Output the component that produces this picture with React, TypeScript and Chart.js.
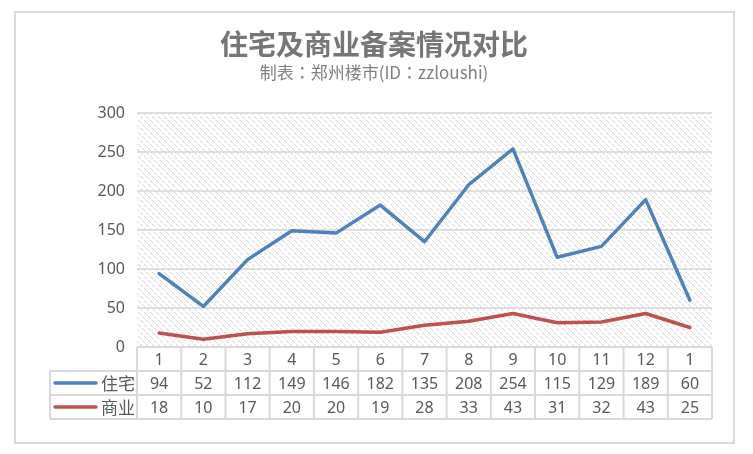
import React, { useEffect, useRef } from "react";
import { Chart, registerables } from "chart.js";

Chart.register(...registerables);

const titleText = "住宅及商业备案情况对比";
const subtitleText = "制表：郑州楼市(ID：zzloushi)";
const categories = ["1", "2", "3", "4", "5", "6", "7", "8", "9", "10", "11", "12", "1"];
const residential = [94, 52, 112, 149, 146, 182, 135, 208, 254, 115, 129, 189, 60];
const commercial = [18, 10, 17, 20, 20, 19, 28, 33, 43, 31, 32, 43, 25];
const seriesNames = ["住宅", "商业"];
const seriesColors = ["#4f81bd", "#c0504d"];
const yMin = 0;
const yMax = 300;
const yStep = 50;

const FONT = '"Noto Sans", "Noto Sans CJK SC", sans-serif';
const CJK = '"Noto Sans CJK SC", "Noto Sans", sans-serif';
const CJK_TC = '"Noto Sans CJK TC", "Noto Sans CJK SC", sans-serif';
const TEXT = "#595959";
const LINE = "#d9d9d9";

function makePattern(ctx: CanvasRenderingContext2D) {
  const c = document.createElement("canvas");
  c.width = 12;
  c.height = 12;
  const p = c.getContext("2d")!;
  p.fillStyle = "#d2d2d2";
  for (let y = 0; y < 12; y++) {
    for (let x = 0; x < 12; x++) {
      if (((x - y) % 6 + 6) % 6 === 0 && y % 4 !== 3) p.fillRect(x, y, 1, 1);
    }
  }
  return ctx.createPattern(c, "repeat");
}

const decorPlugin = {
  id: "decor",
  beforeDraw(chart: any) {
    const ctx: CanvasRenderingContext2D = chart.ctx;
    const { left, top, right, bottom } = chart.chartArea;
    ctx.save();
    ctx.fillStyle = "#ffffff";
    ctx.fillRect(0, 0, chart.width, chart.height);
    ctx.strokeStyle = LINE;
    ctx.lineWidth = 2;
    ctx.strokeRect(15, 12, 719, 431);
    const pat = makePattern(ctx);
    if (pat) {
      ctx.fillStyle = pat;
      ctx.fillRect(left, top, right - left, bottom - top);
    }
    ctx.restore();
  },
  afterDraw(chart: any) {
    const ctx: CanvasRenderingContext2D = chart.ctx;
    const { left, right, bottom } = chart.chartArea;
    const xs = chart.scales.x;
    ctx.save();
    // titles
    ctx.textAlign = "center";
    ctx.textBaseline = "middle";
    ctx.fillStyle = "#767676";
    ctx.font = `bold 28px ${CJK}`;
    ctx.fillText(titleText, 374, 44);
    ctx.fillStyle = "#808080";
    ctx.font = `17px ${CJK_TC}`;
    ctx.fillText(subtitleText, 374, 73);

    // data table
    const rowH = 24;
    const r0 = bottom;
    const r1 = r0 + rowH;
    const r2 = r1 + rowH;
    const r3 = r2 + rowH;
    const headLeft = 50;
    const n = categories.length;
    const colW = (right - left) / n;
    ctx.strokeStyle = LINE;
    ctx.lineWidth = 2;
    ctx.beginPath();
    ctx.moveTo(left, r0); ctx.lineTo(right, r0);
    ctx.moveTo(headLeft, r1); ctx.lineTo(right, r1);
    ctx.moveTo(headLeft, r2); ctx.lineTo(right, r2);
    ctx.moveTo(headLeft, r3); ctx.lineTo(right, r3);
    ctx.moveTo(headLeft, r1); ctx.lineTo(headLeft, r3);
    for (let i = 0; i <= n; i++) {
      const x = left + colW * i;
      ctx.moveTo(x, r0); ctx.lineTo(x, r3);
    }
    ctx.stroke();

    ctx.fillStyle = TEXT;
    ctx.font = `16px ${FONT}`;
    ctx.textAlign = "center";
    ctx.textBaseline = "middle";
    const rowsData = [residential, commercial];
    categories.forEach((c, i) => {
      const x = xs.getPixelForValue(i);
      ctx.fillText(c, x, (r0 + r1) / 2 + 1);
      ctx.fillText(String(rowsData[0][i]), x, (r1 + r2) / 2 + 1);
      ctx.fillText(String(rowsData[1][i]), x, (r2 + r3) / 2 + 1);
    });
    [r1, r2].forEach((rt, k) => {
      const cy = rt + rowH / 2;
      ctx.strokeStyle = seriesColors[k];
      ctx.lineWidth = 3.5;
      ctx.lineCap = "round";
      ctx.beginPath();
      ctx.moveTo(55, cy);
      ctx.lineTo(96, cy);
      ctx.stroke();
      ctx.fillStyle = TEXT;
      ctx.font = `17px ${CJK}`;
      ctx.textAlign = "left";
      ctx.fillText(seriesNames[k], 101, cy + 1);
    });
    ctx.restore();
  },
};

export default function App() {
  const ref = useRef<HTMLCanvasElement | null>(null);
  useEffect(() => {
    if (!ref.current) return;
    const mk = (k: number, data: number[]) => ({
      label: seriesNames[k],
      data,
      borderColor: seriesColors[k],
      backgroundColor: seriesColors[k],
      borderWidth: 3.5,
      pointRadius: 0,
      tension: 0,
      borderCapStyle: "round",
      borderJoinStyle: "round",
    });
    const chart = new Chart(ref.current, {
      type: "line",
      data: {
        labels: categories,
        datasets: [mk(0, residential), mk(1, commercial)],
      },
      options: {
        responsive: false,
        animation: false,
        events: [],
        layout: { padding: { top: 113, bottom: 107, left: 0, right: 41 } },
        plugins: {
          legend: { display: false },
          title: { display: false },
          tooltip: { enabled: false },
        },
        scales: {
          x: {
            display: false,
            offset: true,
          },
          y: {
            min: yMin,
            max: yMax,
            ticks: {
              stepSize: yStep,
              padding: 12,
              color: TEXT,
              font: { family: FONT, size: 16 },
            },
            grid: { color: "#dedede", lineWidth: 2, drawTicks: false },
            border: { display: false },
            afterFit: (scale: any) => {
              scale.width = 137;
            },
          },
        },
      },
      plugins: [decorPlugin],
    } as any);
    return () => chart.destroy();
  }, []);
  return (
    <div style={{ position: "fixed", left: 0, top: 0, width: 753, height: 454 }}>
      <canvas ref={ref} width={753} height={454} style={{ width: 753, height: 454 }} />
    </div>
  );
}
